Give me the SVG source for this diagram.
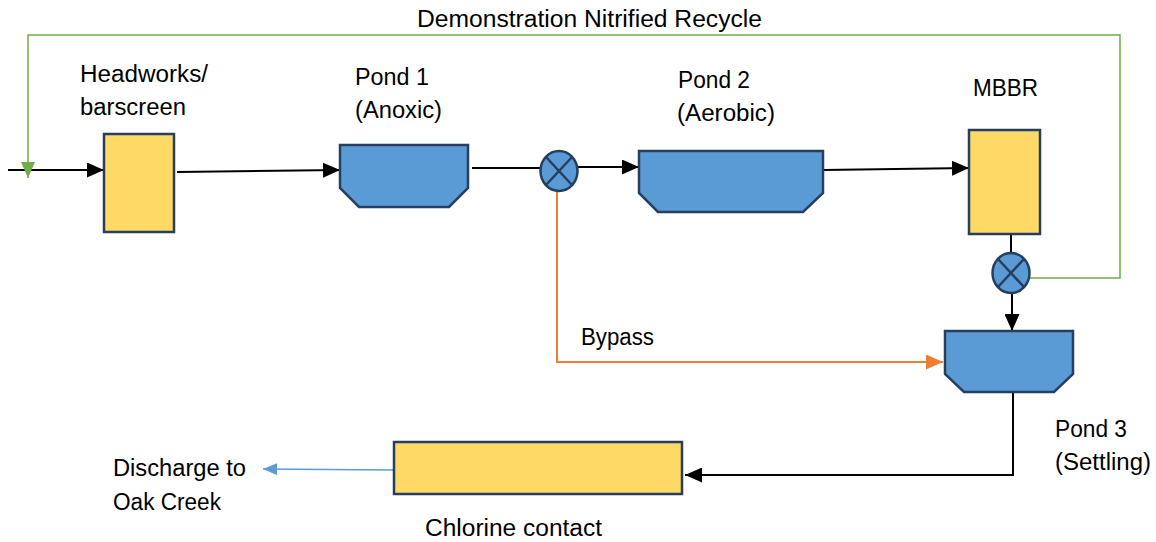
<svg xmlns="http://www.w3.org/2000/svg" width="1156" height="542" viewBox="0 0 1156 542">
<style>
text{font-family:"Liberation Sans",Arial,sans-serif;font-size:23px;fill:#000}
.yel{fill:#FFD966;stroke:#243F60;stroke-width:2.5}
.blu{fill:#5B9BD5;stroke:#243F60;stroke-width:2.5}
.x{stroke:#243F60;stroke-width:2.5}
.blk{fill:none;stroke:#000;stroke-width:2}
.org{fill:none;stroke:#ED7D31;stroke-width:2}
.grn{fill:none;stroke:#70AD47;stroke-width:1.5}
.bl{fill:none;stroke:#5B9BD5;stroke-width:1.5}
</style>
<defs>
<marker id="ab" markerUnits="userSpaceOnUse" markerWidth="17" markerHeight="15" refX="17" refY="7.5" orient="auto"><path d="M0,0 L17,7.5 L0,15 z" fill="#000"/></marker>
<marker id="ao" markerUnits="userSpaceOnUse" markerWidth="17" markerHeight="15" refX="17" refY="7.5" orient="auto"><path d="M0,0 L17,7.5 L0,15 z" fill="#ED7D31"/></marker>
<marker id="ag" markerUnits="userSpaceOnUse" markerWidth="16" markerHeight="14" refX="16" refY="7" orient="auto"><path d="M0,0 L16,7 L0,14 z" fill="#70AD47"/></marker>
<marker id="abl" markerUnits="userSpaceOnUse" markerWidth="14" markerHeight="12" refX="14" refY="6" orient="auto"><path d="M0,0 L14,6 L0,12 z" fill="#5B9BD5"/></marker>
</defs>
<g id="connectors">
<line class="blk" x1="8" y1="170" x2="104" y2="170" marker-end="url(#ab)"/>
<path class="grn" d="M1028,278 H1120 V35 H28 V178" marker-end="url(#ag)"/>
<line class="blk" x1="177" y1="172" x2="340" y2="170" marker-end="url(#ab)"/>
<line class="blk" x1="472" y1="168" x2="541" y2="168"/>
<line class="blk" x1="578" y1="167" x2="639" y2="167" marker-end="url(#ab)"/>
<line class="blk" x1="823" y1="170" x2="969" y2="168" marker-end="url(#ab)"/>
<line class="blk" x1="1011" y1="230" x2="1011" y2="254"/>
<line class="blk" x1="1012" y1="293" x2="1012" y2="331" marker-end="url(#ab)"/>
<path class="org" d="M557,191 V362 H943" marker-end="url(#ao)"/>
<path class="blk" d="M1013,390 V475 H685" marker-end="url(#ab)"/>
<line class="bl" x1="394" y1="470" x2="263" y2="469" marker-end="url(#abl)"/>
</g>
<g id="headworks">
<rect class="yel" x="104" y="134" width="70" height="98"/>
<text x="80" y="82" textLength="128" lengthAdjust="spacingAndGlyphs">Headworks/</text>
<text x="80" y="115" textLength="106" lengthAdjust="spacingAndGlyphs">barscreen</text>
</g>
<g id="pond1">
<path class="blu" d="M340,145 H468 V188 L449,207 H359 L340,188 Z"/>
<text x="355" y="85" textLength="74" lengthAdjust="spacingAndGlyphs">Pond 1</text>
<text x="355" y="118" textLength="87" lengthAdjust="spacingAndGlyphs">(Anoxic)</text>
</g>
<g id="valve1">
<ellipse class="blu" cx="559" cy="171" rx="18.5" ry="20"/>
<line class="x" x1="546" y1="157" x2="572" y2="185"/>
<line class="x" x1="572" y1="157" x2="546" y2="185"/>
</g>
<g id="pond2">
<path class="blu" d="M639,151 H823 V193 L803,212 H658 L639,193 Z"/>
<text x="678" y="88" textLength="72" lengthAdjust="spacingAndGlyphs">Pond 2</text>
<text x="677" y="121" textLength="98" lengthAdjust="spacingAndGlyphs">(Aerobic)</text>
</g>
<g id="mbbr">
<rect class="yel" x="969" y="130" width="71" height="104"/>
<text x="973" y="96" textLength="65" lengthAdjust="spacingAndGlyphs">MBBR</text>
</g>
<g id="valve2">
<ellipse class="blu" cx="1011" cy="273" rx="18.5" ry="20"/>
<line class="x" x1="998" y1="259" x2="1024" y2="287"/>
<line class="x" x1="1024" y1="259" x2="998" y2="287"/>
</g>
<g id="pond3">
<path class="blu" d="M945,331 H1073 V374 L1054,392 H964 L945,374 Z"/>
<text x="1055" y="437" textLength="72" lengthAdjust="spacingAndGlyphs">Pond 3</text>
<text x="1055" y="470" textLength="96" lengthAdjust="spacingAndGlyphs">(Settling)</text>
</g>
<g id="chlorine">
<rect class="yel" x="394" y="442" width="288" height="52"/>
<text x="425" y="536" textLength="177" lengthAdjust="spacingAndGlyphs">Chlorine contact</text>
</g>
<g id="discharge">
<text x="113" y="476" textLength="133" lengthAdjust="spacingAndGlyphs">Discharge to</text>
<text x="113" y="510" textLength="108" lengthAdjust="spacingAndGlyphs">Oak Creek</text>
</g>
<g id="labels">
<text x="417" y="27" textLength="345" lengthAdjust="spacingAndGlyphs">Demonstration Nitrified Recycle</text>
<text x="581" y="345" textLength="73" lengthAdjust="spacingAndGlyphs">Bypass</text>
</g>
</svg>
